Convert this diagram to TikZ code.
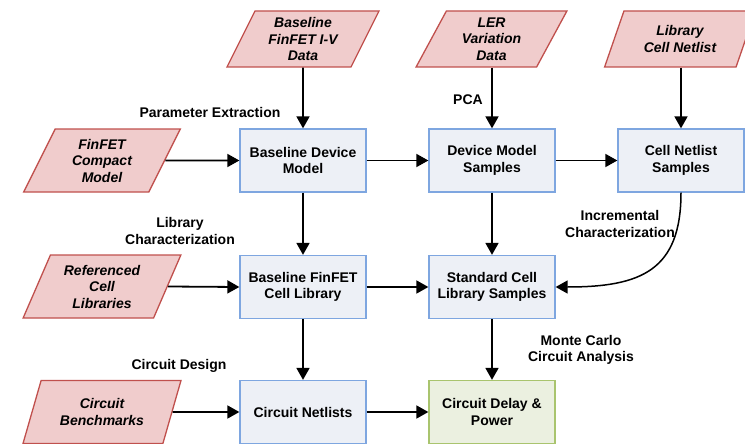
\documentclass[tikz,border=0pt]{standalone}
\usepackage{fontspec}
\setmainfont{Liberation Sans}
\usetikzlibrary{shapes.geometric,arrows.meta}
\definecolor{boxfill}{HTML}{EDF0F6}
\definecolor{boxdraw}{HTML}{7EA6E0}
\definecolor{infill}{HTML}{F0CCCC}
\definecolor{indraw}{HTML}{C0504D}
\definecolor{outfill}{HTML}{EBF0E0}
\definecolor{outdraw}{HTML}{A9C46E}
\tikzset{
 txt/.style={font=\bfseries\fontsize{14}{16.5}\selectfont},
 procbox/.style={rectangle, draw=boxdraw, fill=boxfill, line width=1.3pt, minimum width=126pt, minimum height=63pt, inner sep=0pt, align=center, txt},
 outbox/.style={procbox, draw=outdraw, fill=outfill},
 inbox/.style={trapezium, trapezium left angle=65, trapezium right angle=115, trapezium stretches=true, draw=indraw, fill=infill, line width=1.3pt, minimum width=152pt, minimum height=56pt, inner sep=0pt, align=center, font=\bfseries\itshape\fontsize{14}{16.5}\selectfont},
 inboxL/.style={inbox, minimum width=158pt, minimum height=63pt},
 lbl/.style={align=center, txt, inner sep=0pt},
 flow/.style={line width=1.8pt, -{Triangle[length=12pt,width=13pt]}},
}
\begin{document}
\begin{tikzpicture}[x=1pt,y=-1pt]
\useasboundingbox (0,0) rectangle (745,444);
% inputs
\node[inbox] (iv) at (303,39) {Baseline\\FinFET I-V\\Data};
\node[inbox] (ler) at (491.5,39) {LER\\Variation\\Data};
\node[inbox] (lcn) at (680,39) {Library\\Cell Netlist};
\node[inboxL] (fcm) at (102,160.5) {FinFET\\Compact\\Model};
\node[inboxL] (rcl) at (102,286.5) {Referenced\\Cell\\Libraries};
\node[inboxL] (cb) at (102,412) {Circuit\\Benchmarks};
% process boxes
\node[procbox] (bdm) at (303,160.5) {Baseline Device\\Model};
\node[procbox] (dms) at (492,160.5) {Device Model\\Samples};
\node[procbox] (cns) at (681,160.5) {Cell Netlist\\Samples};
\node[procbox] (bfcl) at (303,287) {Baseline FinFET\\Cell Library};
\node[procbox] (scls) at (492,287) {Standard Cell\\Library Samples};
\node[procbox] (cn) at (303,412) {Circuit Netlists};
\node[outbox] (cdp) at (492,412) {Circuit Delay \&\\Power};
% labels
\node[lbl] (l1) at (210,112) {Parameter Extraction};
\node[lbl] (l2) at (468,100) {PCA};
\node[lbl] (l3) at (180,231) {Library\\Characterization};
\node[lbl] (l4) at (179,366) {Circuit Design};
\node[lbl] (l5) at (620,224) {Incremental\\Characterization};
\node[lbl] (l6) at (581,350) {Monte Carlo\\Circuit Analysis};
% connectors
\draw[flow] (iv.south) -- (bdm.north);
\draw[flow] (ler.south -| dms.north) -- (dms.north);
\draw[flow] (lcn.south -| cns.north) -- (cns.north);
\draw[flow] (fcm.east) -- (bdm.west);
\draw[flow] (rcl.east) -- (bfcl.west);
\draw[flow] (cb.east) -- (cn.west);
\draw[flow] (bdm.east) -- (dms.west);
\draw[flow] (dms.east) -- (cns.west);
\draw[flow] (bfcl.east) -- (scls.west);
\draw[flow] (cn.east) -- (cdp.west);
\draw[flow] (bdm.south) -- (bfcl.north);
\draw[flow] (bfcl.south) -- (cn.north);
\draw[flow] (dms.south) -- (scls.north);
\draw[flow] (scls.south) -- (cdp.north);
\draw[flow, line width=1.5pt] (cns.south) .. controls +(0,78) and +(85,0) .. (scls.east);
\end{tikzpicture}
\end{document}
